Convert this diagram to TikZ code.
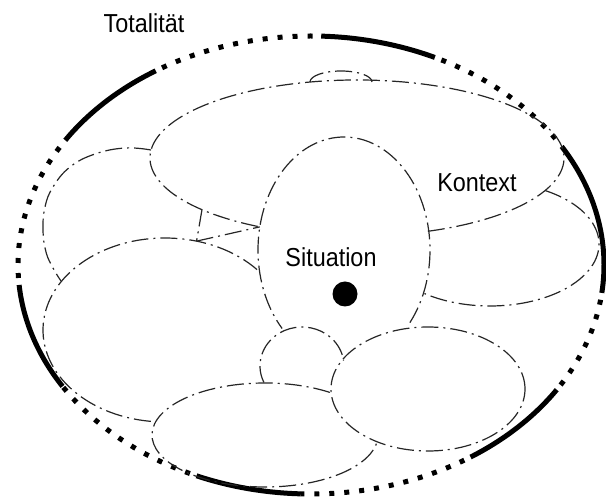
\documentclass[tikz,border=0pt]{standalone}
\usepackage{fontspec}
\setmainfont{Liberation Sans}[FakeStretch=0.9]
\usetikzlibrary{calc}
\begin{document}
\begin{tikzpicture}[x=1pt,y=1pt,
  cell/.style={line width=1.2pt, draw=black!85, dash pattern=on 17pt off 5pt on 2pt off 5pt},
  solidarc/.style={line width=5pt},
  dotarc/.style={line width=5pt, dash pattern=on 5pt off 10pt, dash phase=8pt},
  lbl/.style={font=\fontsize{26}{30}\selectfont, inner sep=0pt, anchor=base}]
\useasboundingbox (0,0) rectangle (606,498);
% centres
\coordinate (O) at (311,233);
\coordinate (K) at (357,340);
\coordinate (S) at (344,248);
\coordinate (BR) at (428,109);
\coordinate (RM) at (490,254);
\coordinate (LL) at (165,168);
\coordinate (B) at (265,63);
\coordinate (SC) at (302,132);
\coordinate (BU) at (341,416);
% junctions
\coordinate (J5) at ($(K)+(221.5:207pt and 78pt)$);
\coordinate (J3) at ($(LL)+(75:122pt and 92pt)$);
\coordinate (J6) at ($(K)+(242:207pt and 78pt)$);
% outer totality
\foreach \a/\b in {88/65, 31/-7, -33/-57, -92/-113, -148/-175, 147/122}
  \draw[solidarc] (O) ++(\a:293pt and 229pt) arc[start angle=\a, end angle=\b, x radius=293pt, y radius=229pt];
\foreach \a/\b in {65/31, -7/-33, -57/-92, -113/-148, -175/-213, 122/88}
  \draw[dotarc] (O) ++(\a:293pt and 229pt) arc[start angle=\a, end angle=\b, x radius=293pt, y radius=229pt];
% Kontext
\draw[cell] (K) ++(-70:207pt and 78pt) arc[start angle=-70, end angle=242, x radius=207pt, y radius=78pt];
% small bump on top
\draw[cell] (BU) ++(180:31pt and 11pt) arc[start angle=180, end angle=0, x radius=31pt, y radius=11pt];
% Situation
\draw[cell] (S) ++(-40:86pt and 113pt) arc[start angle=-40, end angle=224, x radius=86pt, y radius=113pt];
% right middle cell
\draw[cell] (RM) ++(59.5:109pt and 62pt) arc[start angle=59.5, end angle=-127, x radius=109pt, y radius=62pt];
% bottom right cell
\draw[cell] (BR) ellipse[x radius=97pt, y radius=62pt];
% left lower cell
\draw[cell] (LL) ++(41:122pt and 92pt) arc[start angle=41, end angle=265.5, x radius=122pt, y radius=92pt];
% bottom cell
\draw[cell] (B) ++(55:113pt and 52pt) arc[start angle=55, end angle=353, x radius=113pt, y radius=52pt];
% small cell below Situation
\draw[cell] (SC) ++(205:42pt and 39pt) arc[start angle=205, end angle=8, x radius=42pt, y radius=39pt];
% upper left cell
\draw[cell] plot[smooth, tension=0.7] coordinates {(151,348) (125,350) (95,344) (70,331) (53,311) (45,291) (43,268) (46,246) (53,230) (61,217)};
% small pieces between cells
\draw[cell] (J5) -- (J3);
\draw[cell] (J3) -- (J6);
% situation point
\fill (345,204) circle[radius=12.5pt];
% labels
\node[lbl] (tot) at (144,465) {Totalität};
\node[lbl] (kon) at (477,306) {Kontext};
\node[lbl] (sit) at (331,231) {Situation};
\end{tikzpicture}
\end{document}
